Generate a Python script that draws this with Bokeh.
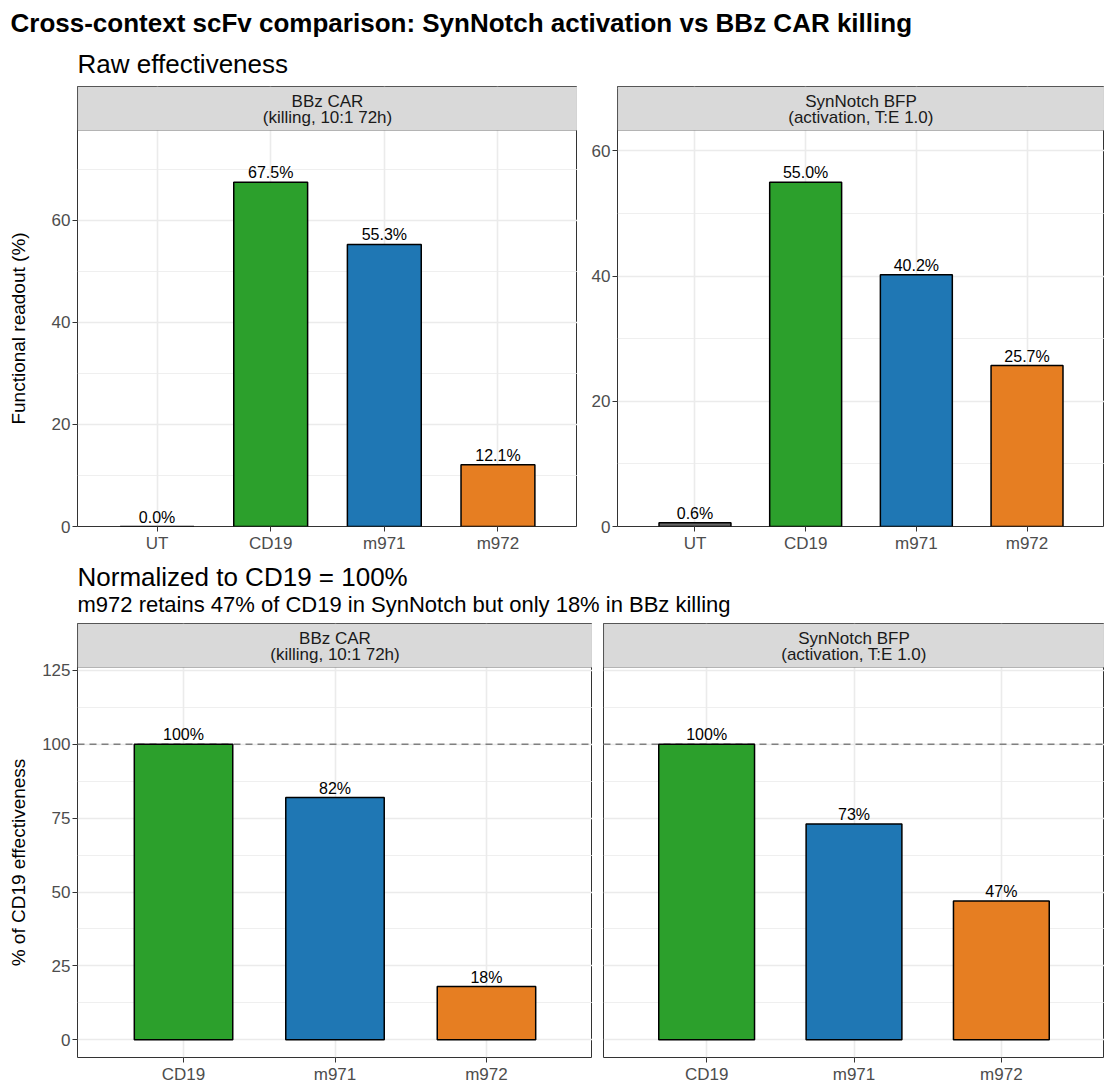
import math
from bokeh.plotting import figure
from bokeh.models import (Range1d, FactorRange, FixedTicker, Span, ColumnDataSource,
                          BoxAnnotation, Label)
from bokeh.layouts import column, row
from bokeh.embed import file_html
from bokeh.resources import INLINE
from bokeh.core.properties import value

FONT = "Liberation Sans"

# ---------------- data ----------------
raw_groups = ["UT", "CD19", "m971", "m972"]
car_raw = [0.0, 67.5, 55.3, 12.1]
syn_raw = [0.6, 55.0, 40.2, 25.7]

norm_groups = ["CD19", "m971", "m972"]
car_norm = [100, 82, 18]
syn_norm = [100, 73, 47]

group_colors = {"UT": "#666666", "CD19": "#2ca02c", "m971": "#1f77b4", "m972": "#e67e22"}

strip_car = ["BBz CAR", "(killing, 10:1 72h)"]
strip_syn = ["SynNotch BFP", "(activation, T:E 1.0)"]

main_title = "Cross-context scFv comparison: SynNotch activation vs BBz CAR killing"
top_title = "Raw effectiveness"
bottom_title = "Normalized to CD19 = 100%"
bottom_subtitle = "m972 retains 47% of CD19 in SynNotch but only 18% in BBz killing"

raw_ylabel = "Functional readout (%)"
norm_ylabel = "% of CD19 effectiveness"

raw_ticks = [0, 20, 40, 60]
raw_minor = [10, 30, 50, 70]
norm_ticks = [0, 25, 50, 75, 100, 125]
norm_minor = [12.5, 37.5, 62.5, 87.5, 112.5]
norm_limits = (0, 120)
reference_level = 100

STRIP = 44


def common(**kw):
    d = dict(output_backend="svg", toolbar_location=None, min_border=0)
    d.update(kw)
    return d


def make_header(w, h, items):
    f = figure(**common(x_range=Range1d(0, w), y_range=Range1d(h, 0),
                        frame_width=w, frame_height=h,
                        x_axis_type=None, y_axis_type=None))
    f.outline_line_color = None
    f.background_fill_color = "white"
    f.border_fill_color = "white"
    for (txt, x, y, size, style) in items:
        f.text(x=[x], y=[y], text=[txt], text_align="left", text_baseline="middle",
               text_font=value(FONT), text_font_size=size, text_font_style=style,
               text_color="black")
    return f


def make_ytitle(txt, h, cy, w=30, cx=18):
    f = figure(**common(x_range=Range1d(0, w), y_range=Range1d(0, h),
                        frame_width=w, frame_height=h,
                        x_axis_type=None, y_axis_type=None))
    f.outline_line_color = None
    f.background_fill_color = "white"
    f.border_fill_color = "white"
    f.text(x=[cx], y=[h - cy], text=[txt], angle=math.pi / 2, text_align="center",
           text_baseline="middle", text_font=value(FONT), text_font_size="19px",
           text_color="black")
    return f


def make_panel(groups, vals, labels, strip_lines, fw, panel_h, bl, br, bb,
               ylo, yhi, ticks, minor, show_y=True, hline=None):
    upp = (yhi - ylo) / panel_h
    ytop = yhi + STRIP * upp
    p = figure(**common(x_range=FactorRange(factors=groups, range_padding=0.2,
                                            range_padding_units="absolute"),
                        y_range=Range1d(ylo, ytop),
                        frame_width=fw, frame_height=panel_h + STRIP,
                        min_border_left=bl, min_border_right=br,
                        min_border_bottom=bb, min_border_top=0))
    p.background_fill_color = "white"
    p.border_fill_color = "white"
    p.outline_line_color = "#333333"
    p.outline_line_width = 1

    tk = FixedTicker(ticks=ticks, minor_ticks=minor)
    p.yaxis.ticker = tk
    p.ygrid.ticker = tk
    p.xgrid.grid_line_color = "#ebebeb"
    p.xgrid.grid_line_width = 1.6
    p.ygrid.grid_line_color = "#ebebeb"
    p.ygrid.grid_line_width = 1.6
    p.ygrid.minor_grid_line_color = "#ebebeb"
    p.ygrid.minor_grid_line_width = 0.8

    for ax in (p.xaxis[0], p.yaxis[0]):
        ax.axis_line_color = None
        ax.major_tick_line_color = "#333333"
        ax.major_tick_line_width = 1
        ax.major_tick_in = 0
        ax.major_tick_out = 5
        ax.minor_tick_line_color = None
        ax.major_label_text_font = FONT
        ax.major_label_text_font_size = "17px"
        ax.major_label_text_color = "#4d4d4d"
        ax.major_label_standoff = 2
    if not show_y:
        p.yaxis.visible = False

    if hline is not None:
        p.add_layout(Span(location=hline, dimension="width", line_color="#808080",
                          line_width=1.5, line_dash="7 5", level="underlay"))

    src = ColumnDataSource(dict(x=groups, top=vals,
                                color=[group_colors[g] for g in groups],
                                label=labels))
    p.vbar(x="x", top="top", bottom=0, width=0.65, fill_color="color",
           line_color="black", line_width=1.5, source=src)
    p.text(x="x", y="top", text="label", text_align="center", text_baseline="bottom",
           y_offset=-1, text_font=value(FONT), text_font_size="16px",
           text_color="black", source=src)

    # facet strip
    p.add_layout(BoxAnnotation(bottom=yhi, fill_color="#d9d9d9", fill_alpha=1.0,
                               line_color="#333333", line_width=1.2))
    n = len(groups)
    for txt, off in zip(strip_lines, [14.5, 30.5]):
        p.add_layout(Label(x=n / 2, y=ytop - off * upp, text=txt, text_align="center",
                           text_baseline="middle", text_font=FONT,
                           text_font_size="17px", text_color="#1a1a1a"))
    return p


# ---------------- layout ----------------
W = 1104

header1 = make_header(W, 86, [
    (main_title, 10, 22, "26px", "bold"),
    (top_title, 77, 63, "26px", "normal"),
])

TOP_PANEL_H = 396
TOP_BB = 29
car_raw_labels = [f"{v:.1f}%" for v in car_raw]
syn_raw_labels = [f"{v:.1f}%" for v in syn_raw]

yt1 = make_ytitle(raw_ylabel, TOP_PANEL_H + STRIP + TOP_BB, 242)
p1 = make_panel(raw_groups, car_raw, car_raw_labels, strip_car, 500, TOP_PANEL_H,
                47, 0, TOP_BB, 0, max(car_raw) * 1.15, raw_ticks, raw_minor)
p2 = make_panel(raw_groups, syn_raw, syn_raw_labels, strip_syn, 487, TOP_PANEL_H,
                40, 0, TOP_BB, 0, max(syn_raw) * 1.15, raw_ticks, raw_minor)

header2 = make_header(W, 68, [
    (bottom_title, 77, 21, "26px", "normal"),
    (bottom_subtitle, 77, 49, "22px", "normal"),
])

BOT_PANEL_H = 390
BOT_BB = 26
span_n = norm_limits[1] - norm_limits[0]
n_lo = norm_limits[0] - 0.05 * span_n
n_hi = norm_limits[1] + 0.05 * span_n
car_norm_labels = [f"{v:.0f}%" for v in car_norm]
syn_norm_labels = [f"{v:.0f}%" for v in syn_norm]

yt2 = make_ytitle(norm_ylabel, BOT_PANEL_H + STRIP + BOT_BB, 239)
p3 = make_panel(norm_groups, car_norm, car_norm_labels, strip_car, 515, BOT_PANEL_H,
                47, 0, BOT_BB, n_lo, n_hi, norm_ticks, norm_minor,
                hline=reference_level)
p4 = make_panel(norm_groups, syn_norm, syn_norm_labels, strip_syn, 501, BOT_PANEL_H,
                11, 0, BOT_BB, n_lo, n_hi, norm_ticks, norm_minor, show_y=False,
                hline=reference_level)

layout = column(
    header1,
    row(yt1, p1, p2, spacing=0),
    header2,
    row(yt2, p3, p4, spacing=0),
    spacing=0,
)

open("out.html", "w").write(file_html(layout, INLINE, title="Cross-context scFv comparison"))
